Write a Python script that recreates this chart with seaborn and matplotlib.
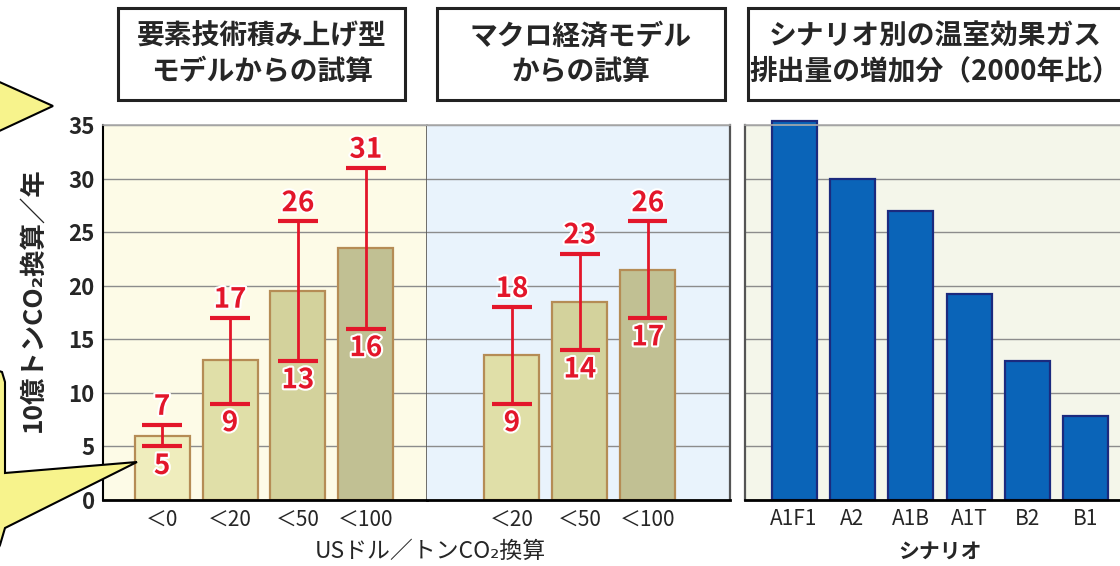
import seaborn as sns
import matplotlib.pyplot as plt
import matplotlib.patheffects as pe
from matplotlib.patches import Rectangle, Polygon

# data
bottomup_cats = ['＜0', '＜20', '＜50', '＜100']
bottomup_mid = [6.0, 13.1, 19.5, 23.5]
bottomup_low = [5, 9, 13, 16]
bottomup_high = [7, 17, 26, 31]

macro_cats = ['＜20', '＜50', '＜100']
macro_mid = [13.5, 18.5, 21.5]
macro_low = [9, 14, 17]
macro_high = [18, 23, 26]

scenario_cats = ['A1F1', 'A2', 'A1B', 'A1T', 'B2', 'B1']
scenario_vals = [35.4, 30.0, 27.0, 19.2, 13.0, 7.8]

yticks = [0, 5, 10, 15, 20, 25, 30, 35]

sns.set_style('white')
plt.rcParams['font.family'] = ['Noto Sans CJK JP', 'DejaVu Sans']

W, H = 1120, 566
fig = plt.figure(figsize=(11.2, 5.66), dpi=100)


def px(x, y):
    return x / W, 1 - y / H


RED = '#e3162a'
olive = ['#efedbd', '#e0dfa8', '#d3d29c', '#c1c093']

ax1 = fig.add_axes([103 / W, 66 / H, 324 / W, 375 / H])
ax2 = fig.add_axes([427 / W, 66 / H, 303 / W, 375 / H])
ax3 = fig.add_axes([745 / W, 66 / H, 380 / W, 375 / H])

ax1.set_facecolor('#fdfbe7')
ax2.set_facecolor('#e9f3fc')
ax3.set_facecolor('#f4f6ea')

sns.barplot(x=bottomup_cats, y=bottomup_mid, hue=bottomup_cats, palette=olive,
            legend=False, saturation=1, width=0.81, edgecolor='#b58c55',
            linewidth=1.6, ax=ax1)
sns.barplot(x=macro_cats, y=macro_mid, hue=macro_cats, palette=olive[1:],
            legend=False, saturation=1, width=0.81, edgecolor='#b58c55',
            linewidth=1.6, ax=ax2)
sns.barplot(x=scenario_cats, y=scenario_vals, color='#0a64b8', saturation=1,
            width=0.77, edgecolor='#1b2a7e', linewidth=1.6, ax=ax3)
for p in ax3.patches:
    p.set_clip_on(False)

ax1.set_xlim(-0.87, 3.9)
ax2.set_xlim(-1.25, 3.21)
ax3.set_xlim(-0.84, 5.67)

# ranges with error bars and labels
for ax, mid, low, high in [(ax1, bottomup_mid, bottomup_low, bottomup_high),
                           (ax2, macro_mid, macro_low, macro_high)]:
    xs = list(range(len(mid)))
    ax.vlines(xs, low, high, color=RED, lw=2, zorder=4)
    ax.hlines(low, [x - 0.29 for x in xs], [x + 0.29 for x in xs], color=RED, lw=3, zorder=4)
    ax.hlines(high, [x - 0.29 for x in xs], [x + 0.29 for x in xs], color=RED, lw=3, zorder=4)
    for x, lo, hi in zip(xs, low, high):
        ax.annotate(str(hi), (x, hi), xytext=(0, 3), textcoords='offset points',
                    ha='center', va='bottom', color=RED, fontsize=20, fontweight='bold',
                    path_effects=[pe.withStroke(linewidth=3, foreground='white')], zorder=5)
        ax.annotate(str(lo), (x, lo), xytext=(0, -4), textcoords='offset points',
                    ha='center', va='top', color=RED, fontsize=20, fontweight='bold',
                    path_effects=[pe.withStroke(linewidth=3, foreground='white')], zorder=5)

for ax in (ax1, ax2, ax3):
    ax.set_ylim(0, 35)
    ax.set_yticks(yticks)
    ax.yaxis.grid(True, color='#8c8c8c', lw=1)
    ax.set_axisbelow(True)
    ax.tick_params(length=0, pad=6)
    ax.set_xlabel('')
    ax.set_ylabel('')
    for s in ax.spines.values():
        s.set_color('#555555')
        s.set_linewidth(1.2)
    ax.spines['bottom'].set_color('black')
    ax.spines['bottom'].set_linewidth(2)
    ax.spines['top'].set_color('#aaaaaa')

ax1.spines['left'].set_color('black')
ax1.spines['left'].set_linewidth(1.5)
ax2.spines['left'].set_visible(False)
ax2.spines['right'].set_linewidth(1.6)
ax3.spines['left'].set_linewidth(1.6)
ax3.spines['right'].set_visible(False)

ax1.set_yticklabels([str(v) for v in yticks], fontsize=16, fontweight='bold')
ax2.set_yticklabels([])
ax3.set_yticklabels([])
for ax in (ax1, ax2):
    for t in ax.get_xticklabels():
        t.set_fontsize(15)
for t in ax3.get_xticklabels():
    t.set_fontsize(15)

fig.text(*px(33, 300), '10億トンCO₂換算／年', rotation=90, ha='center', va='center',
         fontsize=19, fontweight='bold')
fig.text(*px(430, 551), 'USドル／トンCO₂換算', ha='center', va='center', fontsize=16.5)
fig.text(*px(940, 551), 'シナリオ', ha='center', va='center', fontsize=15, fontweight='bold')

# title boxes
boxes = [(118, 405, '要素技術積み上げ型\nモデルからの試算', 262),
         (437, 725, 'マクロ経済モデル\nからの試算', 581),
         (748, 1130, 'シナリオ別の温室効果ガス\n排出量の増加分（2000年比）', 935)]
for x0, x1, txt, xc in boxes:
    fig.add_artist(Rectangle(px(x0, 100), (x1 - x0) / W, 92 / H, transform=fig.transFigure,
                             facecolor='white', edgecolor='#222222', lw=2.2, clip_on=False))
    fig.text(*px(xc, 54), txt, ha='center', va='center', fontsize=20, fontweight='bold',
             linespacing=1.3)

# yellow callouts from the neighbouring figure
callout_style = dict(transform=fig.transFigure, facecolor='#f7f38c', edgecolor='black',
                     lw=1.5, clip_on=False, zorder=6)
fig.add_artist(Polygon([px(-5, 80), px(53, 106), px(-5, 133)], **callout_style))
fig.add_artist(Polygon([px(-10, 368), px(2, 372), px(5, 382), px(5, 473), px(137, 462),
                        px(5, 528), px(0, 545), px(-10, 566)], **callout_style))

fig.savefig('out.png', dpi=100)
